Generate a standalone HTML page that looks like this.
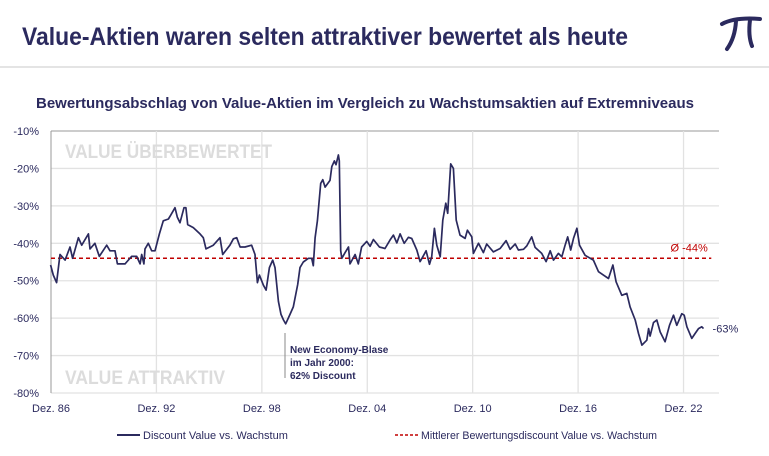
<!DOCTYPE html>
<html><head><meta charset="utf-8">
<style>
body{margin:0;background:#fff;font-family:"Liberation Sans",sans-serif;}
#wrap{position:relative;width:769px;height:456px;overflow:hidden;}
</style></head>
<body>
<div id="wrap">
<svg id="svg" width="769" height="456" xmlns="http://www.w3.org/2000/svg">
  <text x="22" y="45" font-size="25" font-weight="bold" fill="#2b2a5e" textLength="606" lengthAdjust="spacingAndGlyphs">Value-Aktien waren selten attraktiver bewertet als heute</text>
  <g stroke="#2b2a5e" stroke-width="4" fill="none" stroke-linecap="round">
    <path d="M722 24 Q735 17 760 19"/>
    <path d="M736 21 Q735 38 727 49"/>
    <path d="M750 20 Q748 36 752 46"/>
  </g>
  <line x1="0" y1="67" x2="769" y2="67" stroke="#c8c8c8" stroke-width="1"/>
  <text x="36" y="108" font-size="15" font-weight="bold" fill="#2b2a5e" textLength="658" lengthAdjust="spacingAndGlyphs">Bewertungsabschlag von Value-Aktien im Vergleich zu Wachstumsaktien auf Extremniveaus</text>
  <g id="grid"></g>
  <text x="65" y="158" font-size="19" font-weight="bold" fill="#dcdcdc" textLength="207" lengthAdjust="spacingAndGlyphs">VALUE ÜBERBEWERTET</text>
  <text x="65" y="384" font-size="19" font-weight="bold" fill="#dcdcdc" textLength="160" lengthAdjust="spacingAndGlyphs">VALUE ATTRAKTIV</text>
  <g id="marks"></g>
  <line x1="285" y1="333" x2="285" y2="378" stroke="#888" stroke-width="1"/>
  <g font-size="10" font-weight="bold" fill="#2b2a5e">
    <text x="290" y="353">New Economy-Blase</text>
    <text x="290" y="366">im Jahr 2000:</text>
    <text x="290" y="379">62% Discount</text>
  </g>
  <g font-size="11" fill="#2b2a5e">
    <line x1="117" y1="435" x2="140" y2="435" stroke="#2b2a5e" stroke-width="2"/>
    <text x="143" y="439">Discount Value vs. Wachstum</text>
    <line x1="395" y1="435" x2="418" y2="435" stroke="#c00000" stroke-width="1.5" stroke-dasharray="3,2"/>
    <text x="421" y="439" textLength="236" lengthAdjust="spacingAndGlyphs">Mittlerer Bewertungsdiscount Value vs. Wachstum</text>
  </g>
</svg>
</div>
<script>
const years=[1986.9,1987.05,1987.24,1987.43,1987.72,1988.0,1988.15,1988.48,1988.67,1989.05,1989.14,1989.42,1989.67,1990.09,1990.28,1990.56,1990.7,1991.13,1991.51,1991.8,1991.99,1992.08,1992.21,1992.27,1992.46,1992.65,1992.84,1993.09,1993.31,1993.6,1993.73,1993.98,1994.11,1994.26,1994.49,1994.6,1994.7,1995.02,1995.4,1995.59,1995.74,1996.16,1996.54,1996.69,1997.1,1997.3,1997.49,1997.68,1997.96,1998.34,1998.53,1998.67,1998.78,1999.01,1999.16,1999.35,1999.54,1999.67,1999.86,2000.01,2000.15,2000.28,2000.52,2000.71,2000.96,2001.09,2001.28,2001.57,2001.76,2001.85,2001.95,2002.08,2002.27,2002.39,2002.52,2002.8,2002.9,2003.05,2003.14,2003.28,2003.33,2003.41,2003.47,2003.66,2003.85,2003.94,2004.23,2004.41,2004.6,2004.79,2004.89,2005.08,2005.27,2005.61,2005.93,2006.22,2006.41,2006.6,2006.79,2007.02,2007.26,2007.45,2007.74,2007.93,2008.08,2008.27,2008.46,2008.59,2008.74,2008.88,2009.07,2009.22,2009.39,2009.5,2009.67,2009.82,2009.98,2010.2,2010.49,2010.62,2010.87,2010.96,2011.25,2011.53,2011.72,2012.1,2012.48,2012.82,2013.05,2013.34,2013.52,2013.81,2014.0,2014.28,2014.47,2014.85,2015.1,2015.33,2015.52,2015.8,2015.99,2016.18,2016.33,2016.5,2016.66,2016.85,2017.0,2017.32,2017.79,2018.08,2018.36,2018.65,2018.9,2019.08,2019.41,2019.69,2019.88,2020.17,2020.36,2020.55,2020.83,2020.93,2021.02,2021.21,2021.4,2021.59,2021.87,2022.12,2022.35,2022.54,2022.82,2022.96,2023.11,2023.39,2023.58,2023.77,2023.96,2024.06];
const discount=[-45.8,-48.5,-50.5,-43,-44.5,-41,-44,-38.5,-40.5,-37.5,-41.5,-40,-43.5,-40.5,-42,-42,-45.5,-45.5,-43.5,-43.5,-45.5,-43,-45.5,-41.5,-40,-42,-42,-37.5,-34,-33.5,-32.5,-30.5,-33,-34.5,-30.5,-30.5,-35,-35.8,-37.5,-38.5,-41.5,-40.5,-38.5,-43,-40.5,-38.8,-38.5,-41,-41,-40.5,-43,-50.5,-48.5,-51.2,-52.5,-46.5,-44.5,-46.5,-55.5,-59,-60.5,-61.5,-59,-57,-51,-46.5,-45,-44,-44,-46,-38.5,-34,-24,-23,-25,-23.2,-19.5,-18,-19,-16.4,-18,-42,-44,-42.5,-41,-45.5,-43,-45.5,-41,-40,-39.5,-40.8,-39,-41,-41.4,-39.1,-37.8,-39.9,-37.5,-40,-38.4,-38.7,-41.8,-44.9,-43.6,-42,-45.6,-43.6,-36,-40.5,-43.6,-33.8,-29.3,-32,-18.8,-20,-33.8,-37.8,-38.7,-36.5,-38.3,-42.7,-40,-42.5,-40.2,-42.3,-41.4,-39.3,-41.6,-40.2,-41.8,-41.6,-40.7,-38.3,-41.1,-42.7,-44.9,-42,-44.5,-42.7,-43.6,-40.5,-38.3,-41.8,-38.7,-36,-40.5,-43.2,-44.5,-47.6,-48.5,-49.4,-45.8,-50.3,-53.9,-53.4,-57,-60.5,-64.1,-67.2,-65.9,-62.8,-64.8,-61.2,-60.5,-63.7,-66.3,-61.9,-59.2,-61.9,-58.8,-59.2,-62.3,-65.4,-64.1,-62.8,-62.3,-62.8];
const meanValue=[-44];
const yTicks=[-10,-20,-30,-40,-50,-60,-70,-80];
const xTickYears=[1986.92,1992.92,1998.92,2004.92,2010.92,2016.92,2022.92];
const xTickLabels=["Dez. 86","Dez. 92","Dez. 98","Dez. 04","Dez. 10","Dez. 16","Dez. 22"];
const lastLabel=["-63%"];
const meanLabel=["Ø  -44%"];

const NS="http://www.w3.org/2000/svg";
const L=51,R=719;
const X=y=>L+(y-1986.92)*17.57;
const Y=v=>131+(-10-v)*3.743;
function mk(tag,attrs,parent){const e=document.createElementNS(NS,tag);for(const k in attrs)e.setAttribute(k,attrs[k]);parent.appendChild(e);return e;}
const grid=document.getElementById('grid'),marks=document.getElementById('marks');
yTicks.forEach((t,i)=>{
  const ln=mk('line',{x1:L,x2:R,y1:Y(t),y2:Y(t),stroke:i===0?'#999':'#e2e2e2','stroke-width':i===0?1:1.3},grid);
  
  
  const tx=mk('text',{x:39,y:Y(t)+4,'text-anchor':'end','font-size':11,fill:'#2b2a5e'},grid);
  tx.textContent=t+'%';
  
  
});
xTickYears.forEach((t,i)=>{
  const ln=mk('line',{x1:X(t),x2:X(t),y1:Y(-10),y2:Y(-80),stroke:i===0?'#999':'#e2e2e2','stroke-width':i===0?1:1.3},grid);
  
  
  const tx=mk('text',{x:X(t),y:412,'text-anchor':'middle','font-size':11,fill:'#2b2a5e'},grid);
  tx.textContent=xTickLabels[i];
  
  
});
const mean=mk('line',{x1:L,x2:X(2024.5),y1:Y(meanValue[0]),y2:Y(meanValue[0]),stroke:'#c00000','stroke-width':1.5,'stroke-dasharray':'4,3'},marks);


const ml=mk('text',{x:X(2024.3),y:Y(meanValue[0])-7,'text-anchor':'end','font-size':11,fill:'#c00000'},marks);
ml.textContent=meanLabel[0];


const d=years.map((y,i)=>(i?'L':'M')+X(y).toFixed(1)+' '+Y(discount[i]).toFixed(1)).join(' ');
const p=mk('path',{d:d,fill:'none',stroke:'#2b2a5e','stroke-width':1.7,'stroke-linejoin':'round'},marks);


const last=discount[discount.length-1];
const ll=mk('text',{x:X(years[years.length-1])+9,y:Y(last)+4,'font-size':11,fill:'#2b2a5e'},marks);
ll.textContent=lastLabel[0];


</script>
</body></html>
